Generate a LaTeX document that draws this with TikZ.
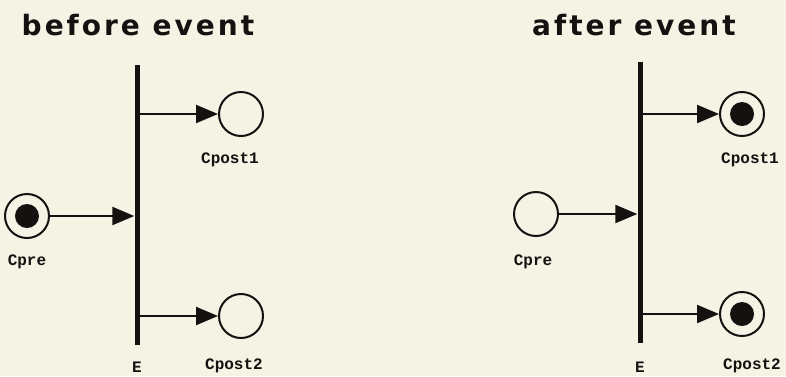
\documentclass[tikz,border=0pt]{standalone}
\usepackage{fontspec}
\newfontfamily\titlefont[LetterSpace=10.7]{DejaVu Sans}
\newfontfamily\labelfont{Liberation Mono}
\usetikzlibrary{arrows.meta}
\definecolor{bgcream}{RGB}{245,243,228}
\definecolor{ink}{RGB}{20,18,16}
\begin{document}
\begin{tikzpicture}[x=1pt,y=-1pt,
  place/.style={circle,draw=ink,line width=2pt,minimum size=44pt,inner sep=0pt},
  marked/.style={place,path picture={\fill[ink] (path picture bounding box.center) circle (12pt);}},
  trans/.style={fill=ink,inner sep=0pt,minimum width=5pt},
  arc/.style={draw=ink,line width=2.2pt,-{Triangle[length=22pt,width=18pt]}},
  lbl/.style={text=ink,inner sep=1pt,font=\labelfont\bfseries\fontsize{16}{16}\selectfont},
  ttl/.style={text=ink,font=\titlefont\bfseries\fontsize{28}{28}\selectfont}]
\fill[bgcream] (0,0) rectangle (786,376);
\useasboundingbox (0,0) rectangle (786,376);
% titles
\node[ttl] (t1) at (138,25) {before event};
\node[ttl] (t2) at (634,25) {after event};
% before
\node[trans,minimum height=280pt] (E1) at (137,205) {};
\node[marked] (pre1) at (27,216) {};
\node[place] (p1a) at (241,114) {};
\node[place] (p2a) at (241,316) {};
\draw[arc] (pre1) -- (pre1 -| E1.west);
\draw[arc] (p1a -| E1) -- (p1a);
\draw[arc] (p2a -| E1) -- (p2a);
\node[lbl] (lpre1) at (27,262) {Cpre};
\node[lbl] (lp1a) at (230,160) {Cpost1};
\node[lbl] (lp2a) at (234,366) {Cpost2};
\node[lbl] (lE1) at (137,367) {E};
% after
\node[trans,minimum height=281pt] (E2) at (640,202) {};
\node[place] (pre2) at (536,214) {};
\node[marked] (p1b) at (742,114) {};
\node[marked] (p2b) at (742,314) {};
\draw[arc] (pre2) -- (pre2 -| E2.west);
\draw[arc] (p1b -| E2) -- (p1b);
\draw[arc] (p2b -| E2) -- (p2b);
\node[lbl] (lpre2) at (533,262) {Cpre};
\node[lbl] (lp1b) at (750,160) {Cpost1};
\node[lbl] (lp2b) at (752,366) {Cpost2};
\node[lbl] (lE2) at (640,367) {E};
\end{tikzpicture}
\end{document}
